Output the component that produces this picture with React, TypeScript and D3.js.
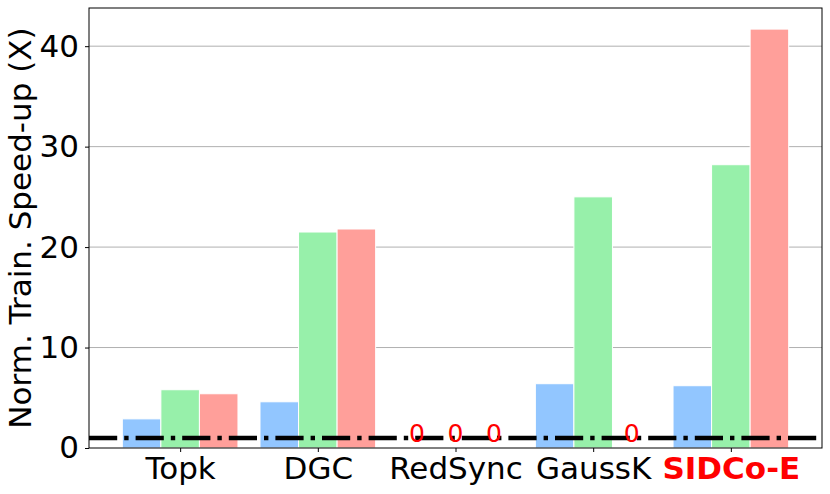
import { useEffect, useRef } from "react";
import { axisBottom, axisLeft, scaleLinear, select } from "d3";

const categories = ["Topk", "DGC", "RedSync", "GaussK", "SIDCo-E"];
const seriesBlue = [2.9, 4.6, 0, 6.4, 6.2];
const seriesGreen = [5.8, 21.5, 0, 25.0, 28.2];
const seriesRed = [5.4, 21.8, 0, 0, 41.7];
const seriesColors = ["#92C6FF", "#97F0AA", "#FF9F9A"];
const yTicks = [0, 10, 20, 30, 40];
const baselineValue = 1;

const FONT = "DejaVu Sans";
const FS = 31;

function AxisLeft({ scale }) {
  const ref = useRef(null);
  useEffect(() => {
    if (ref.current) {
      const g = select(ref.current);
      g.call(axisLeft(scale).tickValues(yTicks).tickSize(4).tickSizeOuter(0).tickPadding(6));
      g.select(".domain").remove();
      g.selectAll("text").attr("font-size", FS).attr("font-family", FONT).attr("fill", "#000");
      g.selectAll("line").attr("stroke", "#000");
    }
  }, [scale]);
  return <g ref={ref} />;
}

function AxisBottom({ scale, transform }) {
  const ref = useRef(null);
  useEffect(() => {
    if (ref.current) {
      const g = select(ref.current);
      g.call(
        axisBottom(scale)
          .tickValues(categories.map((_, i) => i))
          .tickFormat((i) => categories[i])
          .tickSize(4)
          .tickSizeOuter(0)
          .tickPadding(5)
      );
      g.select(".domain").remove();
      g.selectAll("text")
        .attr("font-size", FS)
        .attr("font-family", FONT)
        .attr("fill", (i) => (categories[i] === "SIDCo-E" ? "#ff0000" : "#000"))
        .attr("font-weight", (i) => (categories[i] === "SIDCo-E" ? "bold" : "normal"));
      g.selectAll("line").attr("stroke", "#000");
    }
  }, [scale]);
  return <g ref={ref} transform={transform} />;
}

export default function App() {
  const margin = { top: 8, right: 8, bottom: 46, left: 89 };
  const W = 830;
  const H = 494;
  const width = W - margin.left - margin.right;
  const height = H - margin.top - margin.bottom;

  const barW = 0.28;
  const scaleX = scaleLinear().domain([-0.662, 4.662]).range([0, width]);
  const scaleY = scaleLinear().domain([0, 43.8]).range([height, 0]);

  const series = [seriesBlue, seriesGreen, seriesRed];

  return (
    <div style={{ position: "absolute", left: 0, top: 0 }}>
      <svg width={W} height={H} style={{ display: "block" }}>
        <rect width={W} height={H} fill="#fff" />
        <g transform={`translate(${margin.left},${margin.top})`}>
          {yTicks.slice(1).map((t) => (
            <line key={t} x1={0} x2={width} y1={scaleY(t)} y2={scaleY(t)} stroke="#b0b0b0" strokeWidth={1} />
          ))}
          {series.map((vals, s) =>
            vals.map((v, i) => {
              const x0 = scaleX(i + (s - 1) * barW - barW / 2);
              const x1 = scaleX(i + (s - 1) * barW + barW / 2);
              return v > 0 ? (
                <rect
                  key={`b-${s}-${i}`}
                  x={x0}
                  y={scaleY(v)}
                  width={x1 - x0}
                  height={scaleY(0) - scaleY(v)}
                  fill={seriesColors[s]}
                  stroke="#fff"
                  strokeWidth={1}
                />
              ) : null;
            })
          )}
          <line
            x1={0}
            x2={width}
            y1={scaleY(baselineValue)}
            y2={scaleY(baselineValue)}
            stroke="#000"
            strokeWidth={4.4}
            strokeDasharray="28.2 7 4.4 7"
          />
          {series.map((vals, s) =>
            vals.map((v, i) =>
              v === 0 ? (
                <text
                  key={`z-${s}-${i}`}
                  x={scaleX(i + (s - 1) * barW)}
                  y={scaleY(0.6)}
                  textAnchor="middle"
                  fontSize={25}
                  fontFamily={FONT}
                  fill="#ff0000"
                >
                  0
                </text>
              ) : null
            )
          )}
          <rect x={0} y={0} width={width} height={height} fill="none" stroke="#000" strokeWidth={1} />
          <AxisLeft scale={scaleY} />
          <AxisBottom scale={scaleX} transform={`translate(0,${height})`} />
        </g>
        <text
          transform={`translate(31,${margin.top + height / 2}) rotate(-90)`}
          textAnchor="middle"
          fontSize={FS}
          fontFamily={FONT}
          fill="#000"
        >
          Norm. Train. Speed-up (X)
        </text>
      </svg>
    </div>
  );
}
